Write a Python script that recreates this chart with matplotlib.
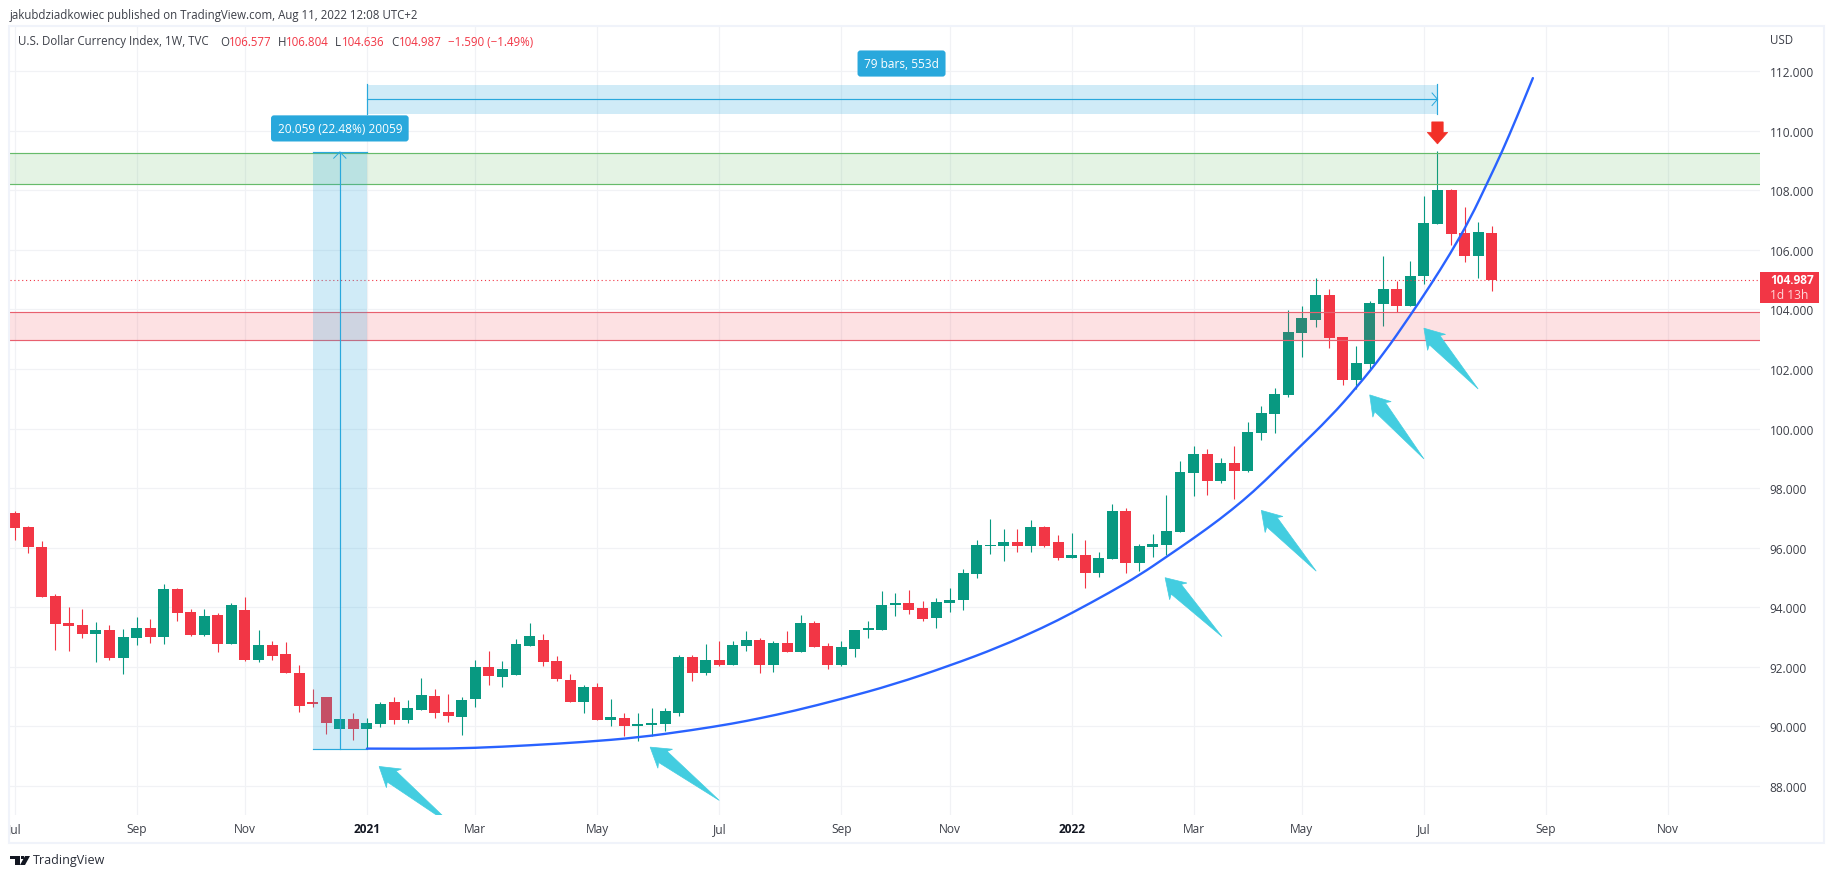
from matplotlib import pyplot as plt
from matplotlib.patches import PathPatch, Polygon, Rectangle
from matplotlib.path import Path
from matplotlib.transforms import Bbox, IdentityTransform
import numpy as np

W, H = 1834, 879

# weekly candles, first bar is the clipped Jul 2020 one
opens = [97.17, 96.70, 96.03, 94.38, 93.48, 93.41, 93.11, 93.24, 92.30, 92.98,
         93.31, 93.01, 94.62, 93.85, 93.08, 93.75, 92.77, 93.91, 92.24, 92.74,
         92.44, 91.80, 90.83, 91.00, 89.92, 90.26, 89.92, 90.06, 90.83, 90.22,
         90.53, 91.03, 90.49, 90.32, 90.93, 92.00, 91.67, 91.73, 92.71, 92.91,
         92.20, 91.57, 90.83, 91.33, 90.22, 90.29, 90.00, 90.03, 90.09, 90.46,
         92.31, 91.78, 92.24, 92.07, 92.69, 92.91, 92.07, 92.79, 92.48, 93.46,
         92.69, 92.07, 92.59, 93.22, 93.25, 94.06, 94.13, 93.96, 93.63, 94.13,
         94.23, 95.10, 96.04, 96.04, 96.18, 96.04, 96.68, 96.18, 95.65, 95.74,
         95.14, 95.61, 97.22, 95.48, 96.01, 96.08, 96.52, 98.49, 99.14, 98.23,
         98.84, 98.57, 99.84, 100.48, 101.12, 103.20, 103.66, 104.50, 103.06, 101.62,
         102.16, 104.17, 104.67, 104.10, 105.11, 106.88, 108.02, 106.58, 105.81, 106.577]
highs = [97.23, 96.73, 96.22, 94.45, 94.02, 93.95, 93.51, 93.41, 93.28, 93.68,
         93.61, 94.79, 94.65, 93.95, 93.95, 93.81, 94.15, 94.35, 93.24, 92.87,
         92.84, 92.07, 91.26, 91.00, 90.26, 90.43, 90.29, 90.83, 91.00, 90.89,
         91.63, 91.26, 91.10, 91.00, 92.24, 92.54, 92.20, 92.94, 93.48, 93.11,
         92.37, 91.77, 91.37, 91.47, 90.93, 90.43, 90.43, 90.63, 90.60, 92.41,
         92.38, 92.76, 92.86, 92.86, 93.19, 92.95, 92.86, 93.19, 93.73, 93.53,
         92.79, 92.88, 93.25, 93.53, 94.53, 94.47, 94.57, 94.20, 94.30, 94.64,
         95.27, 96.25, 96.95, 96.64, 96.61, 96.92, 96.71, 96.42, 96.49, 96.25,
         95.87, 97.46, 97.32, 96.11, 96.45, 97.76, 98.92, 99.43, 99.31, 99.00,
         99.41, 100.21, 100.77, 101.35, 103.97, 104.10, 105.04, 104.67, 103.06, 102.76,
         104.27, 105.81, 104.97, 105.64, 107.82, 109.33, 108.06, 107.45, 106.95, 106.804]
lows = [96.26, 95.83, 94.35, 92.57, 92.54, 92.98, 92.17, 92.24, 91.77, 92.74,
        92.81, 92.77, 93.55, 93.04, 93.04, 92.51, 92.77, 92.20, 92.17, 92.24,
        91.80, 90.49, 90.66, 89.75, 89.92, 89.55, 89.28, 89.96, 90.09, 90.12,
        90.53, 90.29, 90.16, 89.72, 90.66, 91.40, 91.33, 91.73, 92.71, 92.04,
        91.53, 90.83, 90.46, 90.22, 90.02, 89.66, 89.52, 89.69, 89.83, 90.36,
        91.51, 91.71, 92.01, 92.07, 92.52, 91.78, 91.81, 92.48, 92.48, 92.65,
        91.94, 92.04, 92.31, 92.98, 93.22, 93.70, 93.76, 93.53, 93.29, 93.83,
        93.89, 94.97, 95.77, 95.54, 95.87, 95.87, 96.01, 95.58, 95.65, 94.64,
        95.03, 95.61, 95.14, 95.20, 95.70, 95.74, 96.52, 97.73, 97.76, 98.17,
        97.65, 98.55, 99.62, 99.84, 101.05, 102.39, 103.40, 102.69, 101.45, 101.32,
        101.96, 103.43, 103.90, 104.10, 104.84, 106.88, 106.15, 105.58, 105.07, 104.636]
closes = [96.67, 96.03, 94.35, 93.45, 93.38, 93.11, 93.24, 92.30, 93.01, 93.31,
          93.01, 94.62, 93.81, 93.08, 93.71, 92.77, 94.08, 92.24, 92.74, 92.37,
          91.80, 90.69, 90.76, 90.12, 90.26, 89.92, 90.12, 90.76, 90.22, 90.63,
          91.06, 90.43, 90.36, 90.89, 92.00, 91.70, 91.93, 92.77, 93.04, 92.17,
          91.60, 90.83, 91.33, 90.22, 90.32, 90.00, 90.07, 90.12, 90.50, 92.31,
          91.78, 92.24, 92.07, 92.72, 92.91, 92.07, 92.79, 92.48, 93.46, 92.65,
          92.07, 92.65, 93.25, 93.29, 94.09, 94.13, 93.92, 93.59, 94.16, 94.23,
          95.14, 96.08, 96.08, 96.18, 96.04, 96.68, 96.04, 95.65, 95.74, 95.14,
          95.65, 97.22, 95.48, 96.04, 96.11, 96.55, 98.53, 99.14, 98.23, 98.84,
          98.57, 99.88, 100.51, 101.15, 103.23, 103.70, 104.50, 103.03, 101.62, 102.19,
          104.20, 104.67, 104.10, 105.14, 106.92, 108.02, 106.55, 105.81, 106.61, 104.987]

# hand drawn curve, (bar, price)
curve_x = [26, 30, 34, 38, 42, 46, 50, 53, 55.01, 57.47, 61.04, 64.85, 68.98, 72.72, 75.92,
           78.01, 80.84, 83.06, 85.03, 86.99, 88.96, 90.68, 92.15, 94.62, 97.08, 99.05,
           101.01, 102.98, 104.46, 105.93, 107.41, 108.76, 109.75, 110.86, 112.04]
curve_y = [89.25, 89.24, 89.27, 89.36, 89.47, 89.62, 89.87, 90.09, 90.27, 90.51, 90.92, 91.40,
           92.03, 92.67, 93.32, 93.80, 94.50, 95.09, 95.70, 96.31, 96.96, 97.59, 98.19, 99.29,
           100.38, 101.39, 102.50, 103.79, 104.80, 105.86, 107.04, 108.33, 109.28, 110.46, 111.77]

# teal arrows: tip and tail as (bar, price)
arrow_tips = [(26.9, 88.65), (46.9, 89.30), (84.9, 94.99), (92.0, 97.25), (100.0, 101.13), (104.0, 103.37)]
arrow_tails = [(32.5, 86.6), (52.0, 87.51), (89.1, 93.01), (96.05, 95.21), (104.0, 98.98), (108.0, 101.33)]

tick_bars = [0, 9, 17, 26, 34, 43, 52, 61, 69, 78, 87, 95, 104, 113, 122]
tick_names = ["Jul", "Sep", "Nov", "2021", "Mar", "May", "Jul", "Sep", "Nov", "2022", "Mar", "May", "Jul", "Sep", "Nov"]
price_ticks = [88, 90, 92, 94, 96, 98, 100, 102, 104, 106, 108, 110, 112]

GREEN = "#089981"
RED = "#f23645"
BLUE = "#29a8dc"
GRID = "#f1f2f5"
TEXT = "#3c3f48"
FONT = "Open Sans"

plt.rcParams["font.family"] = FONT

fig = plt.figure(figsize=(W / 100, H / 100), dpi=100, facecolor="white")


def px_axes(left, top, right, bottom):
    return [left / W, 1 - bottom / H, (right - left) / W, (bottom - top) / H]


def fig_text(x, y, s, **kw):
    fig.text(x / W, 1 - y / H, s, va="center", **kw)


# outer frame
fig.add_artist(Rectangle((9 / W, 1 - 843.5 / H), 1815 / W, 816.5 / H, transform=fig.transFigure,
                         fc="none", ec="#f0f3fa", lw=1.5))

ax = fig.add_axes(px_axes(10, 27, 1760, 816))
ax.set_xlim(-0.34, 128.8)
ax.set_ylim(87.02, 113.52)
for side in ax.spines.values():
    side.set_visible(False)

ax.set_xticks(tick_bars)
ax.set_xticklabels(tick_names)
ax.set_yticks(price_ticks)
ax.set_yticklabels([f"{p:.3f}" for p in price_ticks])
ax.yaxis.tick_right()
ax.tick_params(axis="x", length=0, pad=5, labelsize=8.6, labelcolor=TEXT)
ax.tick_params(axis="y", length=0, pad=7, labelsize=8.6, labelcolor=TEXT)
ax.grid(True, color=GRID, lw=0.85)
ax.set_axisbelow(True)

for lab in ax.get_xticklabels():
    if lab.get_text() in ("2021", "2022"):
        lab.set_color("#131722")
        lab.set_fontweight("bold")
# the first Jul label gets cut by the chart edge
first = ax.get_xticklabels()[0]
first.set_clip_box(Bbox([[10, 0], [1760, H]]))
first.set_clip_on(True)

# candles
bars = np.arange(len(closes))
opens_a = np.array(opens)
closes_a = np.array(closes)
colors = [GREEN if c >= o else RED for o, c in zip(opens, closes)]
ax.vlines(bars, lows, highs, colors=colors, lw=0.8, zorder=3)
ax.bar(bars, np.maximum(np.abs(closes_a - opens_a), 0.06), bottom=np.minimum(opens_a, closes_a),
       width=0.81, color=colors, zorder=3)

# support and resistance zones
ax.axhspan(108.21, 109.25, fc="#4caf50", alpha=0.15, lw=0, zorder=4)
ax.axhline(109.25, color="#66bb6a", lw=0.85, zorder=4)
ax.axhline(108.21, color="#66bb6a", lw=0.85, zorder=4)
ax.axhspan(102.98, 103.92, fc=RED, alpha=0.15, lw=0, zorder=4)
ax.axhline(103.92, color="#e8606f", lw=0.85, zorder=4)
ax.axhline(102.98, color="#e8606f", lw=0.85, zorder=4)

# last price
ax.axhline(closes[-1], color=RED, lw=0.8, ls=(0, (1, 2.5)), zorder=4)

# price range tool
ax.add_patch(Rectangle((22, 89.23), 4, 20.06, fc=BLUE, alpha=0.22, lw=0, zorder=5))
ax.plot([22, 26], [89.23, 89.23], color=BLUE, lw=0.85, zorder=5)
ax.plot([22, 26], [109.29, 109.29], color=BLUE, lw=0.85, zorder=5)
ax.plot([24, 24], [89.23, 109.29], color=BLUE, lw=0.85, zorder=5)
ax.plot([23.55, 24, 24.45], [109.08, 109.29, 109.08], color=BLUE, lw=0.7, zorder=5)
ax.text(24, 110.08, "20.059 (22.48%) 20059", color="white", fontsize=8.6, ha="center", va="center",
        zorder=7, bbox=dict(boxstyle="round,pad=0.55,rounding_size=0.25", fc=BLUE, ec="none"))

# date range tool
ax.add_patch(Rectangle((26, 110.57), 79, 0.97, fc=BLUE, alpha=0.22, lw=0, zorder=5))
ax.plot([26, 105], [111.06, 111.06], color=BLUE, lw=0.85, zorder=5)
ax.plot([26, 26], [110.57, 111.57], color=BLUE, lw=0.85, zorder=5)
ax.plot([105, 105], [110.57, 111.57], color=BLUE, lw=0.85, zorder=5)
ax.plot([104.6, 105, 104.6], [111.27, 111.06, 110.85], color=BLUE, lw=0.7, zorder=5)
ax.text(65.45, 112.26, "79 bars, 553d", color="white", fontsize=8.6, ha="center", va="center",
        zorder=7, bbox=dict(boxstyle="round,pad=0.55,rounding_size=0.25", fc=BLUE, ec="none"))

# blue curve, smoothed through the read points with quadratic segments
pts = np.column_stack([curve_x, curve_y])
verts = [pts[0]]
codes = [Path.MOVETO]
for k in range(1, len(pts) - 1):
    verts += [pts[k], (pts[k] + pts[k + 1]) / 2]
    codes += [Path.CURVE3, Path.CURVE3]
verts.append(pts[-1])
codes.append(Path.LINETO)
ax.add_patch(PathPatch(Path(verts, codes), fc="none", ec="#2962ff", lw=1.7, zorder=6, capstyle="round"))


def to_px(point):
    return ax.transData.transform(point)


def add_px_patch(points, color):
    patch = Polygon(points, closed=True, fc=color, ec=color, lw=0.5, transform=IdentityTransform(), zorder=6)
    ax.add_patch(patch)
    patch.set_clip_path(ax.patch)


# teal arrows, head shape in pixels
for tip, tail in zip(arrow_tips, arrow_tails):
    t = to_px(tip)
    b = to_px(tail)
    d = (b - t) / np.linalg.norm(b - t)
    n = np.array([-d[1], d[0]])
    add_px_patch([t, t + d * 19 + n * 12, t + d * 16 + n * 7, b,
                  t + d * 16 - n * 7, t + d * 19 - n * 12], "#43cde0")

# red arrow over the high
tip = to_px((105, 109.56))
add_px_patch([tip, tip + [-10.2, 11.5], tip + [-5.7, 11.5], tip + [-5.7, 22], tip + [5.7, 22], tip + [5.7, 11.5],
              tip + [10.2, 11.5]], "#f23027")

# price tag, sits over the axis strip
fig.add_artist(Rectangle((1760 / W, 1 - 304 / H), 59 / W, 31 / H, transform=fig.transFigure, fc=RED, ec="none"))
fig_text(1770, 281, "104.987", color="white", fontsize=8.6, fontweight="bold")
fig_text(1770, 296, "1d 13h", color="#ffd7da", fontsize=8.6)

# header and legend
fig_text(10, 15, "jakubdziadkowiec published on TradingView.com, Aug 11, 2022 12:08 UTC+2", color=TEXT, fontsize=8.3)
fig_text(18, 42, "U.S. Dollar Currency Index, 1W, TVC", color=TEXT, fontsize=8.3)
for x, s, col in [(220, "O", TEXT), (229, "106.577", RED), (278, "H", TEXT), (286, "106.804", RED),
                  (335, "L", TEXT), (342, "104.636", RED), (391, "C", TEXT), (399, "104.987", RED),
                  (448, "\u22121.590 (\u22121.49%)", RED)]:
    fig_text(x, 42, s, color=col, fontsize=8.3)
fig_text(1770, 41, "USD", color=TEXT, fontsize=8.3)

# TradingView logo
logo = fig.add_axes([0, 0, 1, 1], facecolor="none")
logo.set_xlim(0, W)
logo.set_ylim(H, 0)
logo.axis("off")
logo.add_patch(Polygon([(10, 857), (20, 857), (20, 866), (15, 866), (15, 860), (10, 860)], fc="#131722"))
logo.add_patch(Polygon([(25, 857), (30, 857), (25, 866), (20, 866)], fc="#131722"))
logo.add_patch(Rectangle((20.5, 857), 3, 3, fc="#131722"))
fig_text(33, 861, "TradingView", color="#2a2e39", fontsize=9)

fig.savefig("out.png", dpi=100, facecolor="white")
